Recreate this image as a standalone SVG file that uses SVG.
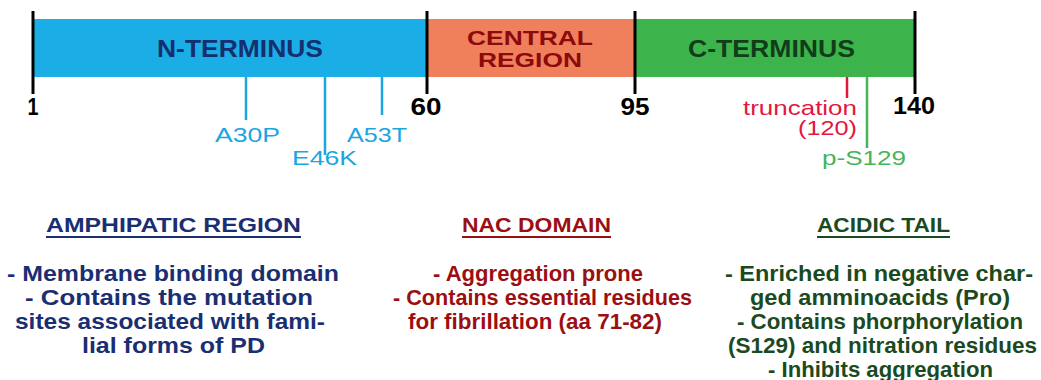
<svg xmlns="http://www.w3.org/2000/svg" width="1041" height="380" viewBox="0 0 1041 380">
<style>
text{font-family:"Liberation Sans",Arial,sans-serif;}
.b{font-weight:bold;}
.tick{stroke:#000;stroke-width:3;}
.num{font-weight:bold;font-size:24px;fill:#000;text-anchor:middle;}
.mut{font-size:21px;fill:#1BA6DF;}
.mline{stroke:#1BA6DF;stroke-width:2.5;}
.head{font-weight:bold;font-size:21px;}
.body{font-weight:bold;font-size:21.5px;}
.blue{fill:#1A2E72;}
.red{fill:#9B0F12;}
.green{fill:#1B4A1E;}
</style>
<rect width="1041" height="380" fill="#fff"/>
<g id="n-terminus">
<rect x="34" y="19" width="393" height="58" fill="#1BADE6"/>
<text class="b" x="157" y="57" font-size="23.5" fill="#14306E" textLength="166" lengthAdjust="spacingAndGlyphs">N-TERMINUS</text>
</g>
<g id="central-region">
<rect x="427" y="19" width="208" height="58" fill="#F07F5C"/>
<text class="b" font-size="19.5" fill="#8B0A0A"><tspan x="467" y="45" textLength="126" lengthAdjust="spacingAndGlyphs">CENTRAL</tspan><tspan x="478" y="67" textLength="104" lengthAdjust="spacingAndGlyphs">REGION</tspan></text>
</g>
<g id="c-terminus">
<rect x="635" y="19" width="280" height="58" fill="#3DB44B"/>
<text class="b" x="688" y="57" font-size="23.5" fill="#123D1A" textLength="167" lengthAdjust="spacingAndGlyphs">C-TERMINUS</text>
</g>
<g id="ticks">
<line class="tick" x1="33" y1="11" x2="33" y2="94"/>
<line class="tick" x1="427" y1="11" x2="427" y2="94"/>
<line class="tick" x1="635" y1="11" x2="635" y2="94"/>
<line class="tick" x1="915" y1="11" x2="915" y2="94"/>
<text class="num" x="33" y="115" textLength="11" lengthAdjust="spacingAndGlyphs">1</text>
<text class="num" x="426" y="115" textLength="31" lengthAdjust="spacingAndGlyphs">60</text>
<text class="num" x="635" y="115" textLength="29" lengthAdjust="spacingAndGlyphs">95</text>
<text class="num" x="914" y="114" textLength="42" lengthAdjust="spacingAndGlyphs">140</text>
</g>
<g id="connectors">
<line class="mline" x1="246" y1="77" x2="246" y2="120"/>
<line class="mline" x1="325" y1="77" x2="325" y2="155"/>
<line class="mline" x1="382" y1="77" x2="382" y2="115"/>
<line x1="847" y1="77" x2="847" y2="98" stroke="#E3173E" stroke-width="2.5"/>
<line x1="867" y1="77" x2="867" y2="148" stroke="#45B45A" stroke-width="2.5"/>
</g>
<g id="mutations">
<text class="mut" x="215" y="142" textLength="65" lengthAdjust="spacingAndGlyphs">A30P</text>
<text class="mut" x="292" y="165" textLength="65" lengthAdjust="spacingAndGlyphs">E46K</text>
<text class="mut" x="347" y="142" textLength="60" lengthAdjust="spacingAndGlyphs">A53T</text>
</g>
<g id="truncation">
<text x="743" y="115" font-size="21" fill="#E3173E" textLength="114" lengthAdjust="spacingAndGlyphs">truncation</text>
<text x="798" y="135" font-size="21" fill="#E3173E" textLength="59" lengthAdjust="spacingAndGlyphs">(120)</text>
</g>
<g id="p-s129">
<text x="822" y="165" font-size="21" fill="#45B45A" textLength="84" lengthAdjust="spacingAndGlyphs">p-S129</text>
</g>
<g id="amphipatic">
<text class="head blue" x="46" y="232" textLength="255" lengthAdjust="spacingAndGlyphs">AMPHIPATIC REGION</text>
<rect x="46" y="236" width="255" height="2" fill="#1A2E72"/>
<text class="body blue" x="7" y="281" textLength="332" lengthAdjust="spacingAndGlyphs">- Membrane binding domain</text>
<text class="body blue" x="25" y="305" textLength="288" lengthAdjust="spacingAndGlyphs">- Contains the mutation</text>
<text class="body blue" x="15" y="329" textLength="310" lengthAdjust="spacingAndGlyphs">sites associated with fami-</text>
<text class="body blue" x="82" y="353" textLength="183" lengthAdjust="spacingAndGlyphs">lial forms of PD</text>
</g>
<g id="nac">
<text class="head red" x="462" y="232" textLength="149" lengthAdjust="spacingAndGlyphs">NAC DOMAIN</text>
<rect x="462" y="236" width="149" height="2" fill="#9B0F12"/>
<text class="body red" x="433" y="281" textLength="210" lengthAdjust="spacingAndGlyphs">- Aggregation prone</text>
<text class="body red" x="393" y="305" textLength="299" lengthAdjust="spacingAndGlyphs">- Contains essential residues</text>
<text class="body red" x="408" y="329" textLength="254" lengthAdjust="spacingAndGlyphs">for fibrillation (aa 71-82)</text>
</g>
<g id="acidic">
<text class="head green" x="817" y="232" textLength="133" lengthAdjust="spacingAndGlyphs">ACIDIC TAIL</text>
<rect x="817" y="236" width="133" height="2" fill="#1B4A1E"/>
<text class="body green" x="725" y="281" textLength="308" lengthAdjust="spacingAndGlyphs">- Enriched in negative char-</text>
<text class="body green" x="750" y="305" textLength="260" lengthAdjust="spacingAndGlyphs">ged amminoacids (Pro)</text>
<text class="body green" x="737" y="329" textLength="286" lengthAdjust="spacingAndGlyphs">- Contains phorphorylation</text>
<text class="body green" x="728" y="353" textLength="309" lengthAdjust="spacingAndGlyphs">(S129) and nitration residues</text>
<text class="body green" x="768" y="377" textLength="225" lengthAdjust="spacingAndGlyphs">- Inhibits aggregation</text>
</g>
</svg>
